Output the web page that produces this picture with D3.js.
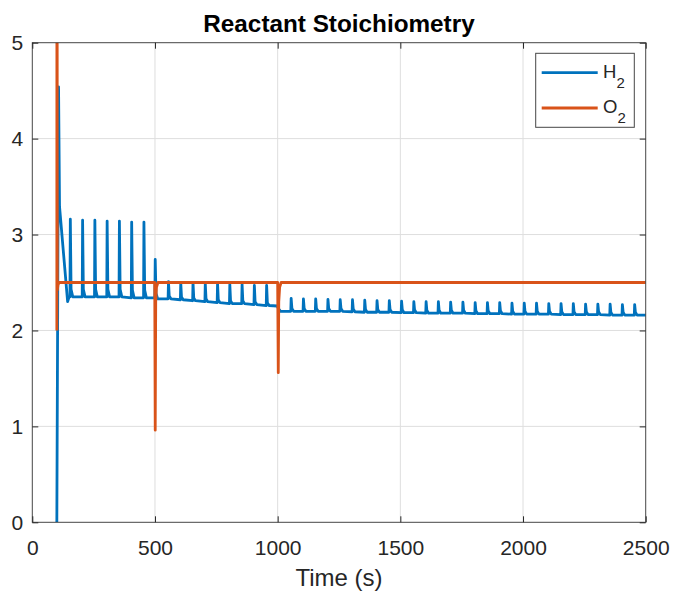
<!DOCTYPE html>
<html>
<head>
<meta charset="utf-8">
<script src="https://cdn.jsdelivr.net/npm/d3@7"></script>
<style>
  html, body { margin: 0; padding: 0; background: #fff; }
  svg { display: block; font-family: "Liberation Sans", Arial, Helvetica, sans-serif; }
</style>
</head>
<body>
<svg id="chart" width="673" height="591"></svg>
<script>
// Reactant stoichiometry of H2 and O2 over time
const xTicks = [0, 500, 1000, 1500, 2000, 2500];
const yTicks = [0, 1, 2, 3, 4, 5];
const seriesNames = ["H", "O"];
const seriesColors = ["#0072BD", "#D95319"];

// H2 stoichiometry: [time (s), ratio]
const h2Points = [
  [100, 0], [107, 4.54], [111, 3.29], [144, 2.30], [150, 2.35],
  [153.5, 2.35], [155, 3.16], [158, 2.43], [165, 2.35],
  [203.5, 2.35], [205, 3.15], [208, 2.43], [215, 2.35],
  [253.5, 2.35], [255, 3.15], [258, 2.43], [265, 2.35],
  [303.5, 2.35], [305, 3.14], [308, 2.43], [315, 2.35],
  [353.5, 2.35], [355, 3.14], [358, 2.43], [365, 2.35],
  [403.5, 2.34], [405, 3.13], [408, 2.42], [415, 2.34],
  [453.5, 2.34], [455, 3.13], [458, 2.42], [465, 2.34],
  [499.5, 2.34], [501, 2.74], [504, 2.39], [511, 2.33],
  [553.5, 2.33], [555, 2.51], [558, 2.36], [565, 2.33],
  [603.5, 2.32], [605, 2.50], [608, 2.35], [615, 2.32],
  [653.5, 2.31], [655, 2.50], [658, 2.34], [665, 2.31],
  [703.5, 2.30], [705, 2.49], [708, 2.33], [715, 2.30],
  [753.5, 2.29], [755, 2.49], [758, 2.32], [765, 2.29],
  [803.5, 2.28], [805, 2.48], [808, 2.31], [815, 2.28],
  [853.5, 2.28], [855, 2.48], [858, 2.31], [865, 2.28],
  [903.5, 2.27], [905, 2.47], [908, 2.30], [915, 2.27],
  [953.5, 2.26], [955, 2.47], [958, 2.29], [965, 2.26],
  [998, 2.255], [1004, 2.225], [1012, 2.20],
  [1053.5, 2.20], [1055, 2.335], [1058, 2.23], [1065, 2.20],
  [1103.5, 2.20], [1105, 2.33], [1108, 2.23], [1115, 2.20],
  [1153.5, 2.20], [1155, 2.33], [1158, 2.23], [1165, 2.20],
  [1203.5, 2.20], [1205, 2.325], [1208, 2.23], [1215, 2.20],
  [1253.5, 2.20], [1255, 2.32], [1258, 2.23], [1265, 2.20],
  [1303.5, 2.195], [1305, 2.32], [1308, 2.225], [1315, 2.195],
  [1353.5, 2.19], [1355, 2.315], [1358, 2.22], [1365, 2.19],
  [1403.5, 2.19], [1405, 2.31], [1408, 2.22], [1415, 2.19],
  [1453.5, 2.19], [1455, 2.31], [1458, 2.22], [1465, 2.19],
  [1503.5, 2.185], [1505, 2.305], [1508, 2.215], [1515, 2.185],
  [1553.5, 2.185], [1555, 2.30], [1558, 2.215], [1565, 2.185],
  [1603.5, 2.18], [1605, 2.30], [1608, 2.21], [1615, 2.18],
  [1653.5, 2.18], [1655, 2.30], [1658, 2.21], [1665, 2.18],
  [1703.5, 2.18], [1705, 2.295], [1708, 2.21], [1715, 2.18],
  [1753.5, 2.18], [1755, 2.295], [1758, 2.21], [1765, 2.18],
  [1803.5, 2.175], [1805, 2.29], [1808, 2.205], [1815, 2.175],
  [1853.5, 2.175], [1855, 2.29], [1858, 2.205], [1865, 2.175],
  [1903.5, 2.175], [1905, 2.29], [1908, 2.205], [1915, 2.175],
  [1953.5, 2.17], [1955, 2.285], [1958, 2.20], [1965, 2.17],
  [2003.5, 2.17], [2005, 2.285], [2008, 2.20], [2015, 2.17],
  [2053.5, 2.17], [2055, 2.285], [2058, 2.20], [2065, 2.17],
  [2103.5, 2.17], [2105, 2.28], [2108, 2.20], [2115, 2.17],
  [2153.5, 2.165], [2155, 2.28], [2158, 2.195], [2165, 2.165],
  [2203.5, 2.165], [2205, 2.28], [2208, 2.195], [2215, 2.165],
  [2253.5, 2.165], [2255, 2.275], [2258, 2.195], [2265, 2.165],
  [2303.5, 2.165], [2305, 2.275], [2308, 2.195], [2315, 2.165],
  [2353.5, 2.16], [2355, 2.275], [2358, 2.19], [2365, 2.16],
  [2403.5, 2.16], [2405, 2.27], [2408, 2.19], [2415, 2.16],
  [2453.5, 2.16], [2455, 2.27], [2458, 2.19], [2465, 2.16],
  [2500, 2.16]
];

// O2 stoichiometry: [time (s), ratio]
const o2Points = [
  [100, 2.0], [100.5, 9.0], [102, 2.42], [105, 2.48], [110, 2.5],
  [499, 2.5], [501, 0.96], [503, 2.3], [506, 2.45], [512, 2.5],
  [1000, 2.5], [1002.5, 1.56], [1004.5, 2.3], [1008, 2.45], [1014, 2.5],
  [2500, 2.5]
];

const svg = d3.select("#chart");
const plotLeft = 32.3, plotRight = 645.7, plotTop = 42.7, plotBottom = 522.3;
const plotW = plotRight - plotLeft, plotH = plotBottom - plotTop;
const axisColor = "#262626";
const lineWidth = 2.8;

const x = d3.scaleLinear().domain([0, 2500]).range([plotLeft, plotRight]);
const y = d3.scaleLinear().domain([0, 5]).range([plotBottom, plotTop]);

svg.append("rect").attr("x", plotLeft).attr("y", plotTop).attr("width", plotW).attr("height", plotH)
  .attr("fill", "#fff");

// grid
const grid = svg.append("g").attr("class", "grid");
grid.selectAll("line.gx").data(xTicks.slice(1, -1)).join("line")
  .attr("x1", d => x(d)).attr("x2", d => x(d))
  .attr("y1", plotTop).attr("y2", plotBottom)
  .attr("stroke", "#dedede").attr("stroke-width", 1);
grid.selectAll("line.gy").data(yTicks.slice(1, -1)).join("line")
  .attr("y1", d => y(d)).attr("y2", d => y(d))
  .attr("x1", plotLeft).attr("x2", plotRight)
  .attr("stroke", "#dedede").attr("stroke-width", 1);

// clipped data lines
svg.append("defs").append("clipPath").attr("id", "plotClip")
  .append("rect").attr("x", plotLeft).attr("y", plotTop).attr("width", plotW).attr("height", plotH);

const line = d3.line().x(d => x(d[0])).y(d => y(d[1]));
const plot = svg.append("g").attr("clip-path", "url(#plotClip)");
plot.append("path").datum(h2Points).attr("d", line)
  .attr("fill", "none").attr("stroke", seriesColors[0]).attr("stroke-width", lineWidth)
  .attr("stroke-linejoin", "round");
plot.append("path").datum(o2Points).attr("d", line)
  .attr("fill", "none").attr("stroke", seriesColors[1]).attr("stroke-width", lineWidth)
  .attr("stroke-linejoin", "round");

// axes with inward ticks on all four sides
function styleAxis(g) {
  g.select(".domain").remove();
  g.selectAll(".tick line").attr("stroke", axisColor).attr("stroke-width", 1);
  g.selectAll(".tick text").attr("fill", axisColor)
    .style("font-family", '"Liberation Sans", Arial, sans-serif').style("font-size", "21px");
}
svg.append("g").attr("transform", `translate(0,${plotBottom})`)
  .call(d3.axisBottom(x).tickValues(xTicks).tickFormat(d3.format("d")).tickSizeInner(-6).tickPadding(18))
  .call(styleAxis);
svg.append("g").attr("transform", `translate(0,${plotTop})`)
  .call(d3.axisTop(x).tickValues(xTicks).tickFormat("").tickSizeInner(-6))
  .call(styleAxis);
svg.append("g").attr("transform", `translate(${plotLeft},0)`)
  .call(d3.axisLeft(y).tickValues(yTicks).tickFormat(d3.format("d")).tickSizeInner(-6).tickPadding(9))
  .call(styleAxis);
svg.append("g").attr("transform", `translate(${plotRight},0)`)
  .call(d3.axisRight(y).tickValues(yTicks).tickFormat("").tickSizeInner(-6))
  .call(styleAxis);

svg.append("rect").attr("x", plotLeft).attr("y", plotTop).attr("width", plotW).attr("height", plotH)
  .attr("fill", "none").attr("stroke", axisColor).attr("stroke-opacity", 0.85).attr("stroke-width", 1);

// title and axis label
svg.append("text").attr("x", (plotLeft + plotRight) / 2).attr("y", 31.5)
  .attr("text-anchor", "middle").attr("font-weight", "bold").attr("font-size", 24.3)
  .attr("fill", "#000").text("Reactant Stoichiometry");
svg.append("text").attr("x", (plotLeft + plotRight) / 2).attr("y", 586)
  .attr("text-anchor", "middle").attr("font-size", 24)
  .attr("fill", axisColor).text("Time (s)");

// legend
const lg = svg.append("g");
lg.append("rect").attr("x", 535.7).attr("y", 53.3).attr("width", 98.6).attr("height", 74)
  .attr("fill", "#fff").attr("stroke", axisColor).attr("stroke-opacity", 0.85).attr("stroke-width", 1);
const rows = [72.7, 108];
seriesNames.forEach((name, i) => {
  lg.append("line").attr("x1", 541.7).attr("x2", 597.7).attr("y1", rows[i]).attr("y2", rows[i])
    .attr("stroke", seriesColors[i]).attr("stroke-width", lineWidth);
  const t = lg.append("text").attr("x", 603).attr("y", rows[i] + 5).attr("font-size", 18.5)
    .attr("fill", axisColor);
  t.append("tspan").text(name);
  t.append("tspan").attr("font-size", 15).attr("dy", 10).text("2");
});
</script>
</body>
</html>
